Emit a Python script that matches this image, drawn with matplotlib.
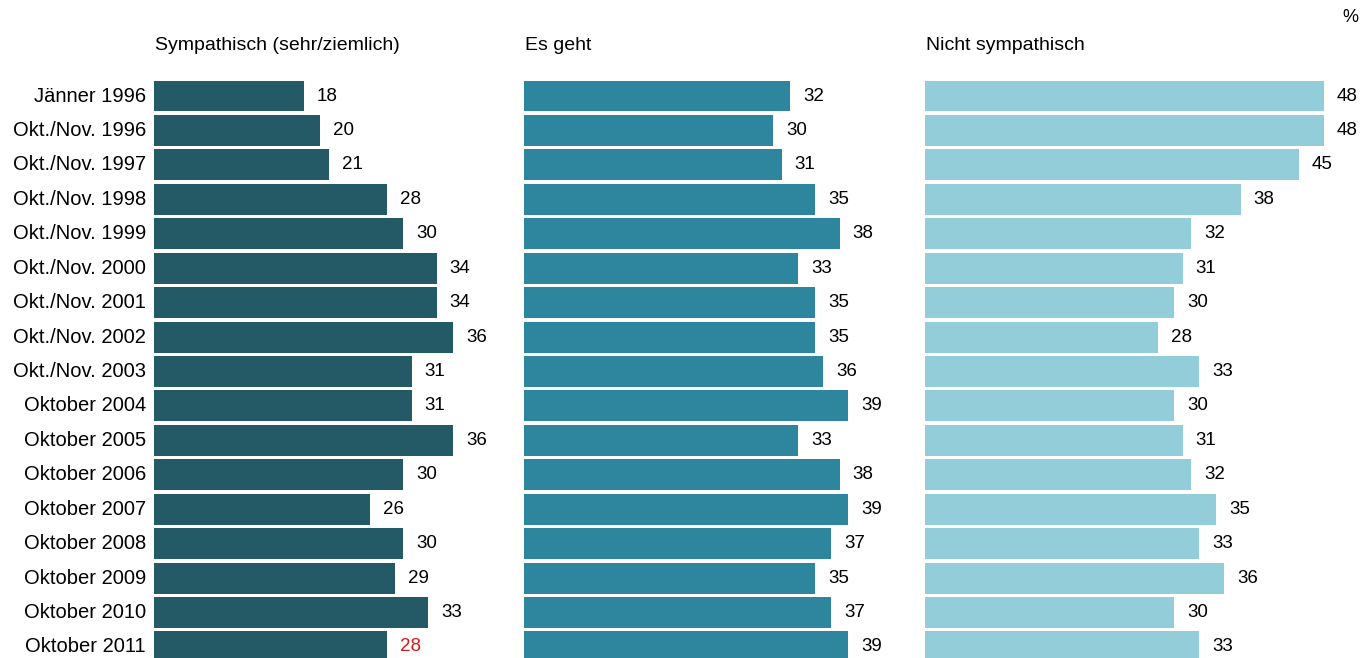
import matplotlib.pyplot as plt

plt.rcParams['font.family'] = ['Liberation Sans', 'DejaVu Sans']

# Daten
zeitpunkte = ["Jänner 1996", "Okt./Nov. 1996", "Okt./Nov. 1997", "Okt./Nov. 1998",
              "Okt./Nov. 1999", "Okt./Nov. 2000", "Okt./Nov. 2001", "Okt./Nov. 2002",
              "Okt./Nov. 2003", "Oktober 2004", "Oktober 2005", "Oktober 2006",
              "Oktober 2007", "Oktober 2008", "Oktober 2009", "Oktober 2010",
              "Oktober 2011"]
sympathisch = [18, 20, 21, 28, 30, 34, 34, 36, 31, 31, 36, 30, 26, 30, 29, 33, 28]
es_geht = [32, 30, 31, 35, 38, 33, 35, 35, 36, 39, 33, 38, 39, 37, 35, 37, 39]
nicht_sympathisch = [48, 48, 45, 38, 32, 31, 30, 28, 33, 30, 31, 32, 35, 33, 36, 30, 33]

titel = ["Sympathisch (sehr/ziemlich)", "Es geht", "Nicht sympathisch"]
farben = ["#235a66", "#2e869e", "#93cdda"]

W, H = 1363, 658
px_per_unit = 8.31
row_px = 34.43
top_px = 96 - row_px / 2

fig = plt.figure(figsize=(W / 100, H / 100), dpi=100)

panels = [(154, 370, sympathisch), (524, 400, es_geht), (925, 438, nicht_sympathisch)]
n = len(zeitpunkte)
ax_h = n * row_px

for k, (x0, wpx, werte) in enumerate(panels):
    ax = fig.add_axes([x0 / W, (H - top_px - ax_h) / H, wpx / W, ax_h / H])
    ax.set_xlim(0, wpx / px_per_unit)
    ax.set_ylim(n - 0.5, -0.5)
    ax.barh(range(n), werte, height=0.9, color=farben[k])
    for i, v in enumerate(werte):
        col = "#d7191c" if (k == 0 and i == n - 1) else "black"
        ax.text(v + 13 / px_per_unit, i, str(v), va="center", ha="left",
                fontsize=13.5, color=col, clip_on=False)
    ax.axis("off")
    ax.patch.set_alpha(0)
    fig.text((x0 + 1) / W, 1 - 45 / H, titel[k], fontsize=14, va="center", ha="left")
    if k == 0:
        for i, lab in enumerate(zeitpunkte):
            ax.text(-8 / px_per_unit, i, lab, ha="right", va="center",
                    fontsize=14.5, clip_on=False)

fig.text(1350 / W, 1 - 18 / H, "%", fontsize=13, ha="center", va="center")

fig.savefig("out.png", dpi=100)
